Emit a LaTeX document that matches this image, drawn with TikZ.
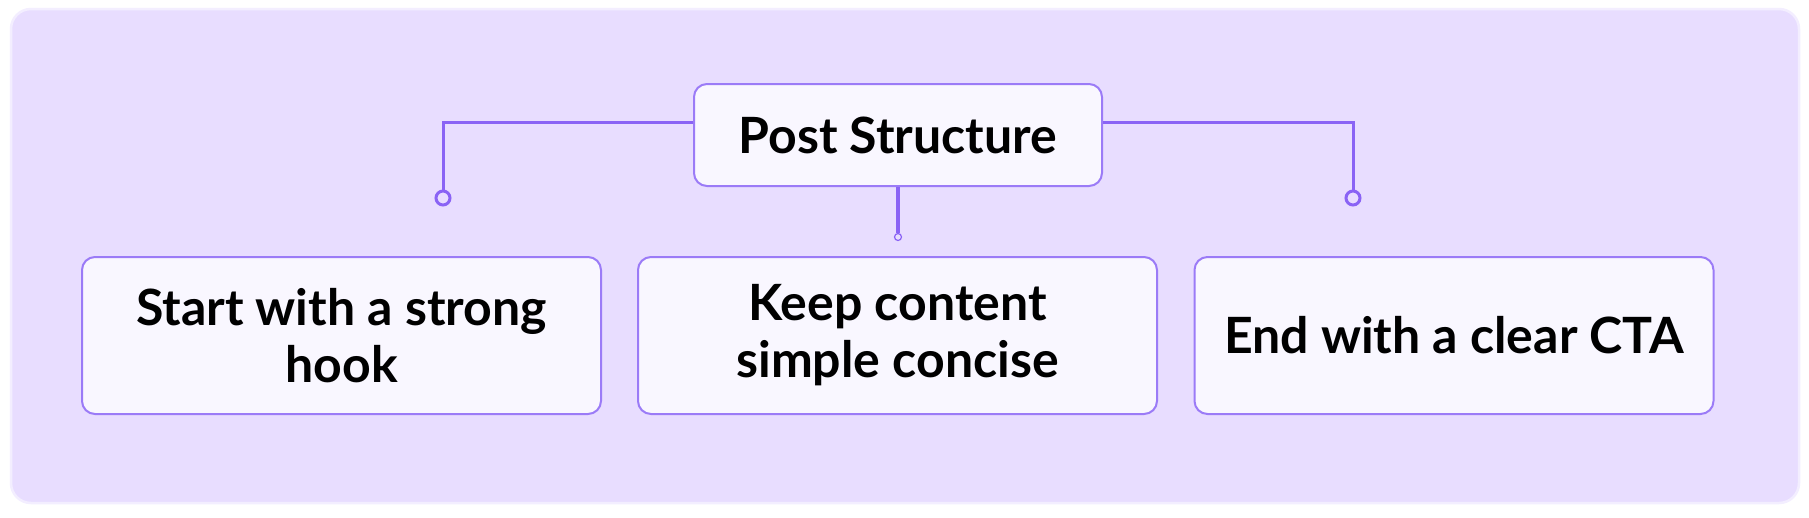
\documentclass[tikz,border=0pt]{standalone}
\usepackage{fontspec}
\setmainfont{Lato}
\definecolor{bgfill}{HTML}{E8DDFF}
\definecolor{bgedge}{HTML}{F3EEFF}
\definecolor{boxfill}{HTML}{F9F7FF}
\definecolor{boxedge}{HTML}{9B7BF7}
\definecolor{conncol}{HTML}{8A63F5}
\begin{document}
\begin{tikzpicture}[x=1pt,y=-1pt,
  card/.style={draw=boxedge, fill=boxfill, line width=2pt, rounded corners=13pt,
    align=center, inner sep=0pt, font=\bfseries\fontsize{50}{57}\selectfont, text=black},
  conn/.style={draw=conncol, line width=3pt},
  ring/.style={circle, draw=conncol, line width=3pt, fill=bgfill, minimum size=14pt, inner sep=0pt},
  smallring/.style={circle, draw=conncol, line width=1.2pt, fill=bgfill, minimum size=7pt, inner sep=0pt}]
\useasboundingbox (0,0) rectangle (1809,517);
\fill[white] (0,0) rectangle (1809,517);
\draw[draw=bgedge, fill=bgfill, line width=2.5pt, rounded corners=20pt] (11,9) rectangle (1799,503);

\node[card, minimum width=408pt, minimum height=102pt] (post) at (898,135) {Post Structure};
\node[card, minimum width=519pt, minimum height=157pt] (b1) at (341.5,335.5) {Start with a strong\\hook};
\node[card, minimum width=519pt, minimum height=157pt] (b2) at (897.5,335.5) {Keep content\\simple concise};
\node[card, minimum width=519pt, minimum height=157pt] (b3) at (1454,335.5) {End with a clear CTA};

\node[ring] (c1) at (443,198) {};
\node[ring] (c3) at (1353,198) {};
\node[smallring] (cm) at (898,237) {};

\draw[conn] ([yshift=13pt]post.west) -| (c1.north);
\draw[conn] ([yshift=13pt]post.east) -| (c3.north);
\draw[conn, line width=3.6pt] (post.south) -- (cm.north);
\end{tikzpicture}
\end{document}
